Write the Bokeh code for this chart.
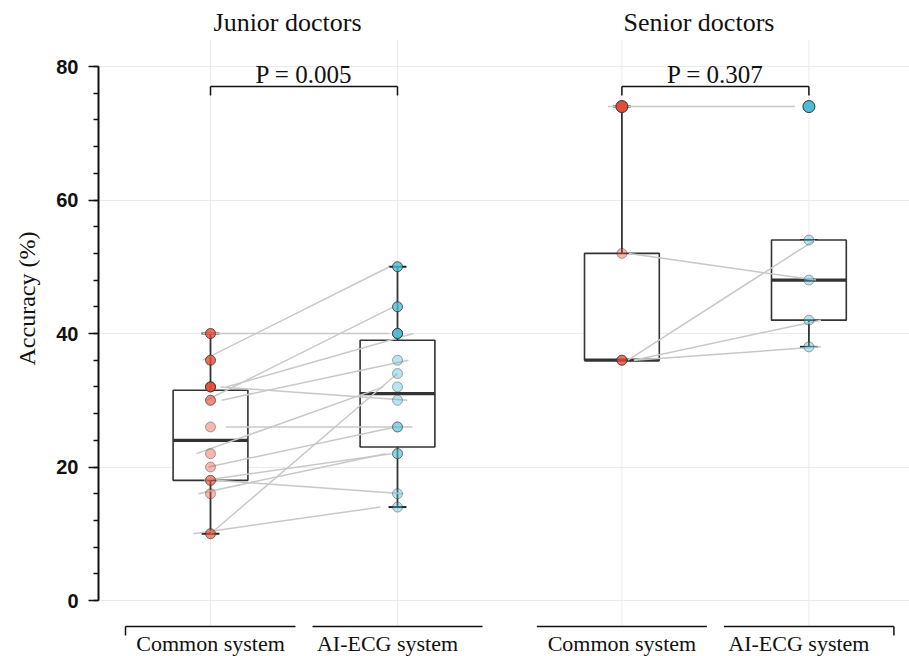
import numpy as np
from bokeh.plotting import figure
from bokeh.models import Range1d, SingleIntervalTicker, ColumnDataSource, Title
from bokeh.core.properties import value
from bokeh.embed import file_html
from bokeh.resources import INLINE

# ---- data -------------------------------------------------------------
panels = ["Junior doctors", "Senior doctors"]
systems = ["Common system", "AI-ECG system"]
p_labels = ["P = 0.005", "P = 0.307"]
y_title = "Accuracy (%)"
y_ticks = [0, 20, 40, 60, 80]

# paired accuracy (%) per doctor: common system -> AI-ECG system
junior_common = [36, 40, 30, 32, 30, 32, 26, 22, 20, 18, 16, 18, 10, 10]
junior_ai = [50, 40, 44, 40, 36, 30, 26, 32, 26, 22, 22, 16, 14, 34]
senior_common = [74, 52, 36, 36, 36]
senior_ai = [74, 48, 54, 42, 38]

# horizontal jitter of each doctor's connecting line (pixels)
junior_jitter = [-8, -8, -4, 16, 11, 10, 15, -14, -2, -6, -12, 6, -17, 0]
senior_jitter = [-14, 7, 6, 12, 12]

groups = [(junior_common, junior_ai, junior_jitter),
          (senior_common, senior_ai, senior_jitter)]

# ---- layout constants -------------------------------------------------
PX = 187.0            # pixels per x unit
PANEL_GAP = 2.2       # x offset between panels
BOX_HALF = 0.2
CAP_HALF = 0.048
COLORS = ["#E64B35", "#4DBBD5"]
SERIF = "Liberation Serif"
INK = "#111111"

W, H = 909, 656
LEFT = 98
x0 = -(210 - LEFT) / PX
y_per_px = 80 / 534.0
y_top = 80 + 66 * y_per_px
y_bot = -(H - 600) * y_per_px


def y_at(px):
    """data value of a pixel row measured from the top of the canvas"""
    return (600 - px) * y_per_px


p = figure(width=W, height=H, x_range=Range1d(x0, x0 + (W - LEFT) / PX),
           y_range=Range1d(y_bot, y_top), output_backend="svg",
           toolbar_location=None, x_axis_location=None, title=None,
           min_border=0, min_border_left=LEFT, min_border_right=0,
           min_border_top=0, min_border_bottom=0,
           outline_line_color=None, background_fill_color="white",
           border_fill_color="white")

p.xgrid.visible = False
p.ygrid.ticker = SingleIntervalTicker(interval=20)
p.ygrid.grid_line_color = "#ebebeb"
p.ygrid.grid_line_width = 1

ax = p.yaxis[0]
ax.ticker = SingleIntervalTicker(interval=20, num_minor_ticks=5)
ax.bounds = (min(y_ticks), max(y_ticks))
ax.axis_line_width = 2
ax.axis_line_color = INK
ax.major_tick_line_width = 1.5
ax.minor_tick_line_width = 1.5
ax.major_tick_line_color = INK
ax.minor_tick_line_color = INK
ax.major_tick_out = 10
ax.major_tick_in = 0
ax.minor_tick_out = 5
ax.minor_tick_in = 0
ax.major_label_standoff = 10
ax.major_label_text_font = "Liberation Sans"
ax.major_label_text_font_style = "bold"
ax.major_label_text_font_size = "20px"
ax.major_label_text_color = INK

# y-axis title as a side title, starting 365 px down the canvas
p.add_layout(Title(text=y_title, align="left", vertical_align="top",
                   offset=H - 365, standoff=24,
                   text_font=SERIF, text_font_size="24px",
                   text_font_style="normal", text_color=INK), "left")

# category centres
cat_x = [pi * PANEL_GAP + si for pi in range(2) for si in range(2)]

# vertical grid lines
p.segment(x0=cat_x, x1=cat_x, y0=[y_at(625)] * 4, y1=[y_at(40)] * 4,
          line_color="#ebebeb", line_width=1)


def box_stats(vals):
    v = np.asarray(vals, dtype=float)
    q1, med, q3 = np.percentile(v, [25, 50, 75])
    iqr = q3 - q1
    lo = v[v >= q1 - 1.5 * iqr].min()
    hi = v[v <= q3 + 1.5 * iqr].max()
    return q1, med, q3, lo, hi, iqr


line_rows = dict(x0=[], x1=[], y0=[], y1=[])
pt_rows = dict(x=[], y=[], color=[], alpha=[], size=[])
box_rows = dict(left=[], right=[], q1=[], q3=[], med=[], lo=[], hi=[], x=[])

for pi, (common, ai, jit) in enumerate(groups):
    base = pi * PANEL_GAP
    for a, b, j in zip(common, ai, jit):
        line_rows["x0"].append(base + j / PX)
        line_rows["x1"].append(base + 1 + j / PX)
        line_rows["y0"].append(a)
        line_rows["y1"].append(b)
    for si, vals in enumerate([common, ai]):
        cx = base + si
        q1, med, q3, lo, hi, iqr = box_stats(vals)
        box_rows["left"].append(cx - BOX_HALF)
        box_rows["right"].append(cx + BOX_HALF)
        box_rows["q1"].append(q1)
        box_rows["q3"].append(q3)
        box_rows["med"].append(med)
        box_rows["lo"].append(lo)
        box_rows["hi"].append(hi)
        box_rows["x"].append(cx)
        for v in vals:
            far = v > q3 + iqr
            pt_rows["x"].append(cx)
            pt_rows["y"].append(v)
            pt_rows["color"].append(COLORS[si])
            pt_rows["alpha"].append(1.0 if far else (0.8 if v > q3 else 0.4))
            pt_rows["size"].append(12 if far else 10)

bs = ColumnDataSource(box_rows)
bx = np.array(box_rows["x"])
# whiskers
p.segment(x0="x", x1="x", y0="q3", y1="hi", source=bs, line_color="#333333", line_width=1.8)
p.segment(x0="x", x1="x", y0="q1", y1="lo", source=bs, line_color="#333333", line_width=1.8)
caps = ColumnDataSource(dict(l=list(bx - CAP_HALF), r=list(bx + CAP_HALF),
                             hi=box_rows["hi"], lo=box_rows["lo"]))
p.segment(x0="l", x1="r", y0="hi", y1="hi", source=caps, line_color="#222222", line_width=2)
p.segment(x0="l", x1="r", y0="lo", y1="lo", source=caps, line_color="#222222", line_width=2)
# boxes
p.quad(left="left", right="right", bottom="q1", top="q3", source=bs,
       fill_color="white", line_color="#333333", line_width=1.6)
p.segment(x0="left", x1="right", y0="med", y1="med", source=bs,
          line_color="#333333", line_width=3.2)

# paired lines
p.segment(x0="x0", x1="x1", y0="y0", y1="y1", source=ColumnDataSource(line_rows),
          line_color="#c8c8c8", line_width=1.5)

# points
p.scatter(x="x", y="y", size="size", fill_color="color", fill_alpha="alpha",
          line_color="#333333", line_alpha="alpha", line_width=1,
          source=ColumnDataSource(pt_rows))

# significance brackets and panel titles
for pi in range(2):
    base = pi * PANEL_GAP
    yb = y_at(86)
    yt = y_at(95)
    p.segment(x0=[base, base, base + 1], x1=[base + 1, base, base + 1],
              y0=[yb, yb, yb], y1=[yb, yt, yt],
              line_color=INK, line_width=1.5)
    p.text(x=[base + 0.5], y=[y_at(74)], text=[p_labels[pi]],
           text_font=value(SERIF), text_font_size="25px", text_align="center",
           text_baseline="alphabetic", text_color=INK)
    p.text(x=[base + 0.412], y=[y_at(22)], text=[panels[pi]],
           text_font=value(SERIF), text_font_size="26px", text_align="center",
           text_baseline="alphabetic", text_color=INK)

# bottom category brackets and labels
yb = y_at(626)
yt = y_at(635)
half = 85 / PX
for ci, cx in enumerate(cat_x):
    si = ci % 2
    p.segment(x0=[cx - half], x1=[cx + half], y0=[yb], y1=[yb],
              line_color=INK, line_width=1.5)
    if ci == 0:
        p.segment(x0=[cx - half], x1=[cx - half], y0=[yb], y1=[yt],
                  line_color=INK, line_width=1.5)
    if ci == 3:
        p.segment(x0=[cx + half], x1=[cx + half], y0=[yb], y1=[yt],
                  line_color=INK, line_width=1.5)
    shift = 0.0 if si == 0 else -10 / PX
    p.text(x=[cx + shift], y=[y_at(643)], text=[systems[si]],
           text_font=value(SERIF), text_font_size="22px", text_align="center",
           text_baseline="alphabetic", text_color=INK)

open("out.html", "w").write(file_html(p, INLINE))
